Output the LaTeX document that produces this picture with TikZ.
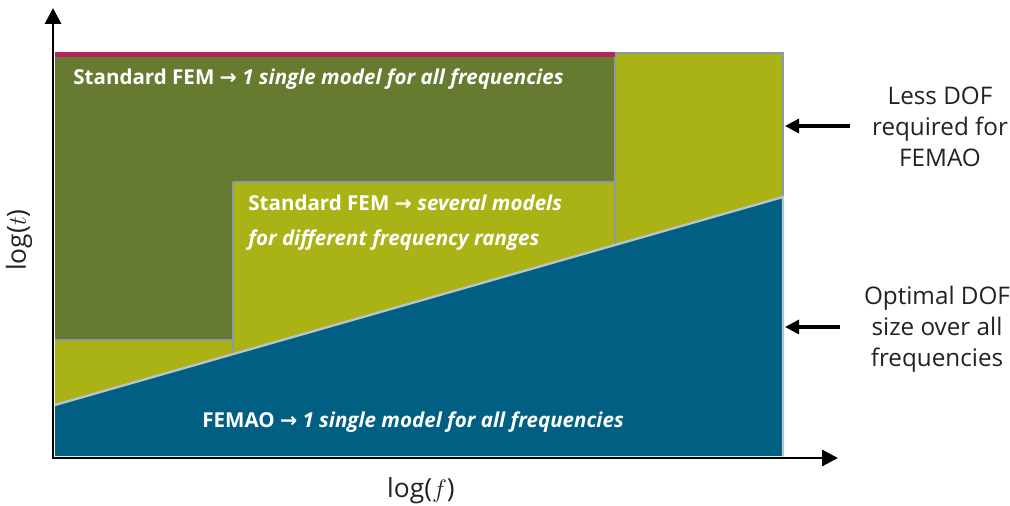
\documentclass[tikz,border=0pt]{standalone}
\usepackage{fontspec}
\setmainfont{Open Sans}
\newfontfamily\arrfont{DejaVu Sans}
\usetikzlibrary{arrows.meta}
\definecolor{dgreen}{HTML}{667B2F}
\definecolor{ygreen}{HTML}{AAB316}
\definecolor{fblue}{HTML}{005F83}
\definecolor{fmag}{HTML}{B5245A}
\definecolor{gline}{HTML}{8C9AA6}
\definecolor{lline}{HTML}{B8C6CC}
\definecolor{txt}{HTML}{222222}
\newcommand{\ar}{{\arrfont\bfseries →}}
\tikzset{
  inlabel/.style={text=white, font=\fontsize{11.7}{13}\selectfont\bfseries, anchor=west, inner sep=0pt},
  sidelabel/.style={text=txt, font=\fontsize{13.8}{17.6}\selectfont, align=center, inner sep=0pt},
  axlabel/.style={text=txt, font=\fontsize{15}{17}\selectfont, inner sep=0pt},
  axisline/.style={line width=1.7pt, {Triangle[length=9pt,width=9pt]}-{Triangle[length=9pt,width=9pt]}},
  pointer/.style={line width=1.8pt, -{Triangle[length=8pt,width=8pt]}},
  gridline/.style={draw=gline, line width=1.2pt},
}
\begin{document}
\begin{tikzpicture}[x=0.02cm,y=-0.02cm]
\useasboundingbox (0,0) rectangle (1010,506);
% regions
\fill[dgreen] (55,55) rectangle (615,340);
\fill[ygreen] (55,340) rectangle (233,410);
\fill[ygreen] (233,182) rectangle (615,360);
\fill[ygreen] (615,53) rectangle (783,250);
\fill[fblue] (55,405) -- (783,197) -- (783,456) -- (55,456) -- cycle;
% boundaries
\draw[gridline] (55,340) -- (233,340);
\draw[gridline] (233,182) -- (615,182);
\draw[gridline] (233,182) -- (233,354);
\draw[gridline] (615,245) -- (615,53) -- (783,53) -- (783,197);
\draw[draw=lline, line width=1.3pt] (55,405) -- (783,197) -- (783,456);
\draw[draw=fmag, line width=2.4pt] (55,54.5) -- (615,54.5);
% axes
\coordinate (ytip) at (53,8);
\coordinate (orig) at (53,458);
\coordinate (xtip) at (838,458);
\draw[axisline] (ytip) -- (orig) -- (xtip);
% in-plot labels
\node[inlabel] (l1) at (73,79) {Standard FEM \ar{} \itshape 1 single model for all frequencies};
\node[inlabel] (l2) at (248,203) {Standard FEM \ar{} \itshape several models};
\node[inlabel] (l3) at (248,240) {\itshape for different frequency ranges};
\node[inlabel] (l4) at (202,422) {FEMAO \ar{} \itshape 1 single model for all frequencies};
% side labels
\node[sidelabel] (less) at (940,127) {Less DOF\\required for\\FEMAO};
\node[sidelabel] (opt) at (937,329) {Optimal DOF\\size over all\\frequencies};
\coordinate (lesstail) at (850,126);
\coordinate (lesstip) at (785,126);
\coordinate (opttail) at (840,327);
\coordinate (opttip) at (785,327);
\draw[pointer] (lesstail) -- (lesstip);
\draw[pointer] (opttail) -- (opttip);
% axis labels
\node[axlabel, rotate=90] (ylab) at (19,240) {log($t$)};
\node[axlabel] (xlab) at (421,491) {log($f$)};
\end{tikzpicture}
\end{document}
